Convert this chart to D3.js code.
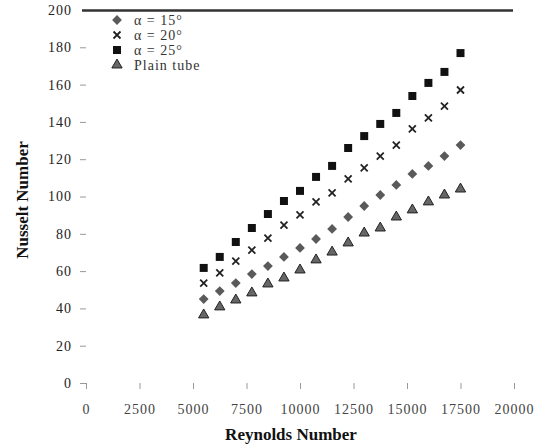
<!DOCTYPE html>
<html><head><meta charset="utf-8">
<script src="https://cdn.jsdelivr.net/npm/d3@7"></script>
<style>
body{margin:0;background:#fff;}
svg{display:block;}
</style></head>
<body>
<svg id="c" width="536" height="447"></svg>
<script>
const reynolds = [5500,6250,7000,7750,8500,9250,10000,10750,11500,12250,13000,13750,14500,15250,16000,16750,17500];
const nu15 = [45.0,49.3,53.6,58.4,62.7,67.6,72.4,77.2,82.6,89.0,94.9,100.8,106.2,112.1,116.4,121.7,127.6];
const nu20 = [53.6,59.0,65.4,71.3,77.7,84.7,90.1,97.1,101.9,109.4,115.3,121.7,127.6,136.2,142.1,148.5,157.1];
const nu25 = [61.7,67.6,75.6,83.1,90.6,97.6,103.0,110.5,116.4,126.0,132.4,138.9,144.8,153.9,160.9,166.8,176.9];
const nuPlain = [36.5,40.8,44.5,48.3,53.1,56.3,60.6,66.0,70.2,75.1,80.4,83.1,89.0,92.8,97.1,100.8,104.0];
const seriesNames = ["α = 15°","α = 20°","α = 25°","Plain tube"];
const xTicks = [0,2500,5000,7500,10000,12500,15000,17500,20000];
const yTicks = [0,20,40,60,80,100,120,140,160,180,200];

const svg = d3.select("#c");
const x = d3.scaleLinear().domain([0,20000]).range([86,514]);
const y = d3.scaleLinear().domain([0,200]).range([383,10]);

// top border line
svg.append("line").attr("x1",82).attr("x2",513).attr("y1",y(200)+0.5).attr("y2",y(200)+0.5)
  .attr("stroke","#333").attr("stroke-width",2.5);

// axes
const font = "'Liberation Serif', 'Times New Roman', serif";
const ya = svg.append("g").attr("transform","translate(86,0)")
  .call(d3.axisLeft(y).tickValues(yTicks).tickSize(6).tickPadding(8).tickFormat(d3.format("d")));
ya.select(".domain").remove();
ya.selectAll(".tick line").attr("stroke","#999");
ya.selectAll(".tick").filter(d=>d===200).select("line").remove();
ya.selectAll("text").attr("font-family",font).attr("font-size",14).attr("letter-spacing",1)
  .attr("fill","#222");

const xa = svg.append("g").attr("transform","translate(0,"+y(0)+")")
  .call(d3.axisBottom(x).tickValues(xTicks).tickSize(6).tickPadding(15).tickFormat(d3.format("d")));
xa.select(".domain").remove();
xa.selectAll(".tick line").attr("stroke","#999");
xa.selectAll("text").attr("font-family",font).attr("font-size",14).attr("letter-spacing",1)
  .attr("fill","#444");

// axis titles
svg.append("text").attr("x",291).attr("y",440).attr("text-anchor","middle")
  .attr("font-family",font).attr("font-weight","bold").attr("font-size",17).attr("fill","#111")
  .text("Reynolds Number");
svg.append("text").attr("transform","translate(28,200) rotate(-90)").attr("text-anchor","middle")
  .attr("font-family",font).attr("font-weight","bold").attr("font-size",17).attr("fill","#111")
  .text("Nusselt Number");

// marker drawers
function drawMarker(g, type){
  if(type===0){ // diamond
    g.append("path").attr("d",d3.symbol(d3.symbolSquare,48)()).attr("transform","rotate(45)")
      .attr("fill","#5a5a5a");
  } else if(type===1){ // x
    g.append("path").attr("d","M-3.5,-3.5L3.5,3.5M-3.5,3.5L3.5,-3.5")
      .attr("stroke","#222").attr("stroke-width",1.8).attr("fill","none");
  } else if(type===2){ // square
    g.append("path").attr("d",d3.symbol(d3.symbolSquare,64)()).attr("fill","#111");
  } else { // triangle
    g.append("path").attr("d",d3.symbol(d3.symbolTriangle,46)()).attr("fill","#666")
      .attr("stroke","#222").attr("stroke-width",1);
  }
}

const series = [nu15, nu20, nu25, nuPlain];
series.forEach((vals,si)=>{
  const g = svg.append("g");
  reynolds.forEach((r,i)=>{
    const m = g.append("g").attr("transform","translate("+x(r)+","+y(vals[i])+")");
    drawMarker(m, si);
  });
});

// legend
const legRows = [20,35,50,65];
seriesNames.forEach((n,i)=>{
  const m = svg.append("g").attr("transform","translate(117,"+legRows[i]+")");
  drawMarker(m,i);
  svg.append("text").attr("x",134).attr("y",legRows[i]).attr("dy","0.35em")
    .attr("font-family",font).attr("font-size",14).attr("letter-spacing",1).attr("fill","#333").text(n);
});
</script>
</body></html>
